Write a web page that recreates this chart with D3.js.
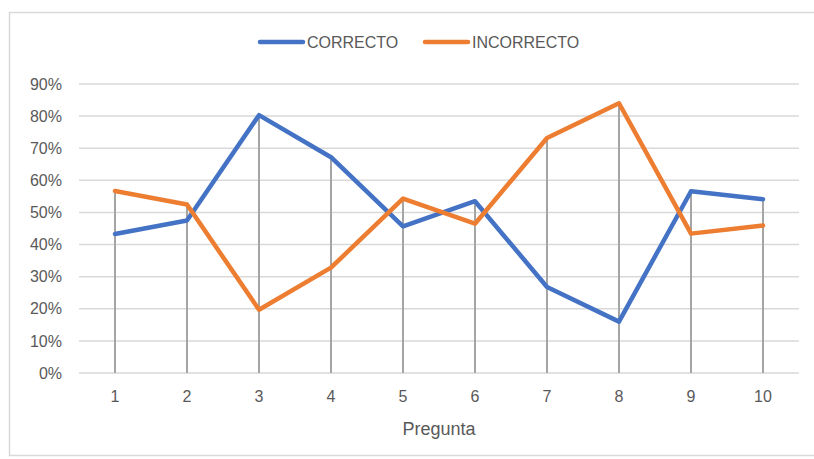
<!DOCTYPE html>
<html>
<head>
<meta charset="utf-8">
<script src="https://cdn.jsdelivr.net/npm/d3@7"></script>
<style>
  html, body { margin: 0; padding: 0; background: #fff; }
  svg text { font-family: "Liberation Sans", Arial, sans-serif; fill: #595959; }
</style>
</head>
<body>
<svg id="chart" width="814" height="459"></svg>
<script>
// Question numbers on the x axis
const preguntas = ["1", "2", "3", "4", "5", "6", "7", "8", "9", "10"];
// Share of correct answers per question
const correcto = [0.433, 0.475, 0.803, 0.672, 0.457, 0.535, 0.268, 0.160, 0.566, 0.541];
// Share of incorrect answers per question
const incorrecto = [0.567, 0.525, 0.197, 0.328, 0.543, 0.465, 0.732, 0.840, 0.434, 0.459];
// Value axis ticks
const yTicks = [0, 0.1, 0.2, 0.3, 0.4, 0.5, 0.6, 0.7, 0.8, 0.9];
const seriesNames = ["CORRECTO", "INCORRECTO"];
const colors = ["#4472C4", "#ED7D31"];

const svg = d3.select("#chart");
const W = 814, H = 459;
const margin = { left: 79, right: 15, top: 84, bottom: 86 };

// Chart area frame
svg.append("rect")
  .attr("x", 9.5).attr("y", 12.5)
  .attr("width", 820).attr("height", 443)
  .attr("fill", "none").attr("stroke", "#d9d9d9").attr("stroke-width", 1.5);

const x = d3.scaleBand().domain(preguntas)
  .range([margin.left, W - margin.right]);
const y = d3.scaleLinear().domain([0, 0.9])
  .range([H - margin.bottom, margin.top]);
const cx = d => x(d) + x.bandwidth() / 2;

// Horizontal gridlines
svg.append("g").selectAll("line").data(yTicks).join("line")
  .attr("x1", margin.left).attr("x2", W - margin.right)
  .attr("y1", d => y(d)).attr("y2", d => y(d))
  .attr("stroke", "#d9d9d9").attr("stroke-width", 1.5);

// Value axis labels
const yAxis = d3.axisLeft(y).tickValues(yTicks).tickFormat(d3.format(".0%"))
  .tickSize(0).tickPadding(17);
svg.append("g").attr("transform", `translate(${margin.left},0)`).call(yAxis)
  .call(g => g.select(".domain").remove())
  .call(g => g.selectAll("text").attr("font-size", 16).attr("fill", "#595959")
    .attr("font-family", "Liberation Sans, Arial, sans-serif"));

// Category axis labels
const xAxis = d3.axisBottom(x).tickSize(0).tickPadding(18);
svg.append("g").attr("transform", `translate(0,${y(0)})`).call(xAxis)
  .call(g => g.select(".domain").remove())
  .call(g => g.selectAll("text").attr("font-size", 16).attr("fill", "#595959")
    .attr("font-family", "Liberation Sans, Arial, sans-serif"));

// Axis title
svg.append("text")
  .attr("x", (margin.left + W - margin.right) / 2).attr("y", 435)
  .attr("text-anchor", "middle").attr("font-size", 18)
  .text("Pregunta");

// Drop lines from the higher of the two values down to the axis
svg.append("g").selectAll("line").data(preguntas).join("line")
  .attr("x1", d => cx(d)).attr("x2", d => cx(d))
  .attr("y1", (d, i) => y(Math.max(correcto[i], incorrecto[i])))
  .attr("y2", y(0))
  .attr("stroke", "#a5a5a5").attr("stroke-width", 2);

// Series lines
const line = d3.line().x(d => cx(d.cat)).y(d => y(d.v));
[correcto, incorrecto].forEach((vals, s) => {
  svg.append("path")
    .datum(vals.map((v, i) => ({ cat: preguntas[i], v })))
    .attr("d", line)
    .attr("fill", "none").attr("stroke", colors[s])
    .attr("stroke-width", 4.5).attr("stroke-linejoin", "round")
    .attr("stroke-linecap", "round");
});

// Legend
const legend = svg.append("g").attr("transform", "translate(0,42)");
const legendX = [258, 423];
seriesNames.forEach((name, s) => {
  legend.append("line")
    .attr("x1", legendX[s] + 2).attr("x2", legendX[s] + 45)
    .attr("y1", 0).attr("y2", 0)
    .attr("stroke", colors[s]).attr("stroke-width", 4.5)
    .attr("stroke-linecap", "round");
  legend.append("text")
    .attr("x", legendX[s] + 49).attr("y", 0).attr("dy", "0.35em")
    .attr("font-size", 16).text(name);
});
</script>
</body>
</html>
